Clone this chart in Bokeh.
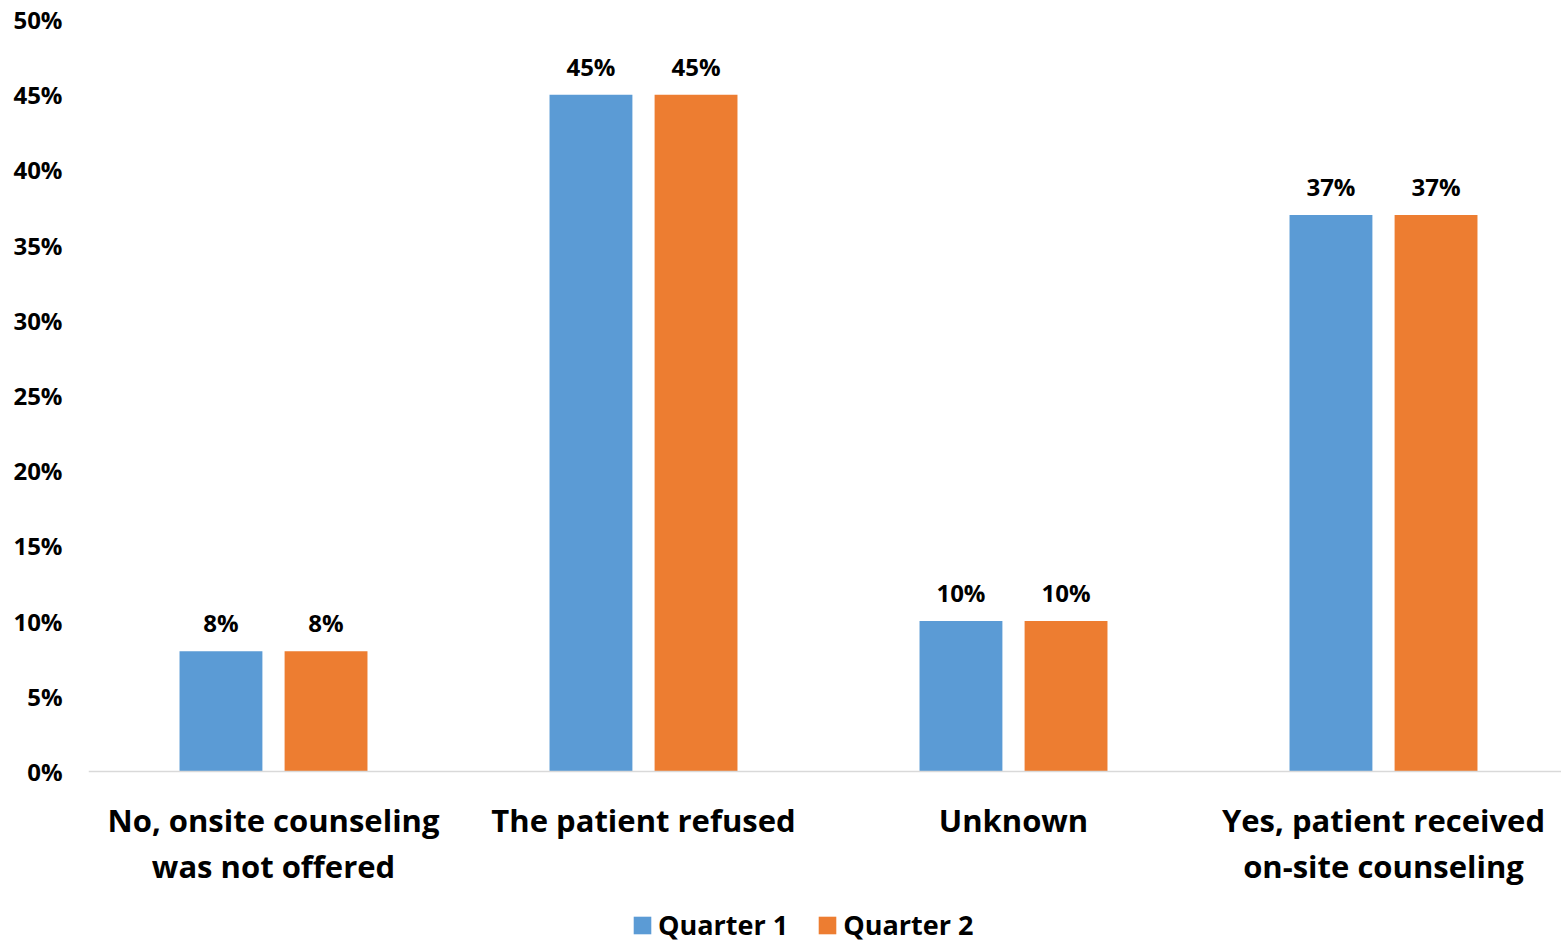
from bokeh.plotting import figure
from bokeh.models import (ColumnDataSource, Range1d, FixedTicker, Span,
                          NumeralTickFormatter, LabelSet, Legend, LegendItem)
from bokeh.core.properties import value
from bokeh.embed import file_html
from bokeh.resources import INLINE

categories = ["No, onsite counseling\nwas not offered", "The patient refused",
              "Unknown", "Yes, patient received\non-site counseling"]
quarter1 = [0.08, 0.45, 0.10, 0.37]
quarter2 = [0.08, 0.45, 0.10, 0.37]
series_names = ["Quarter 1", "Quarter 2"]
y_ticks = [0, 0.05, 0.10, 0.15, 0.20, 0.25, 0.30, 0.35, 0.40, 0.45, 0.50]

FONT = "Open Sans"
BLUE = "#5B9BD5"
ORANGE = "#ED7D31"

W, H = 1561, 944
LEFT, TOP = 88, 19
AXIS_PX = 771            # pixel row of the 0% baseline
SLOT_PX = 370            # width of one category slot
BAR_W = 0.224
OFFSET = 0.142

centers = [i + 0.5 for i in range(len(categories))]
first_line = [c.split("\n")[0] for c in categories]
second_line = [(c.split("\n") + [""])[1] for c in categories]

src = ColumnDataSource(dict(
    xc=centers,
    x1=[c - OFFSET for c in centers],
    x2=[c + OFFSET for c in centers],
    zero=[0] * len(categories),
    line1=first_line,
    line2=second_line,
    q1=quarter1,
    q2=quarter2,
    q1_txt=[f"{round(v * 100)}%" for v in quarter1],
    q2_txt=[f"{round(v * 100)}%" for v in quarter2],
))

# the plotting frame runs to the bottom edge so the category names and legend
# below the 0% line can live inside it
y_per_px = 0.5 / (AXIS_PX - TOP)
y_min = -(H - AXIS_PX) * y_per_px
x_max = (W - LEFT) / SLOT_PX

p = figure(width=W, height=H, x_range=Range1d(0, x_max), y_range=Range1d(y_min, 0.5),
           output_backend="svg", toolbar_location=None,
           min_border_left=LEFT, min_border_right=0, min_border_top=TOP, min_border_bottom=0)
p.outline_line_color = None
p.background_fill_color = "white"
p.border_fill_color = "white"
p.xgrid.visible = False
p.ygrid.visible = False
p.xaxis.visible = False

r1 = p.vbar(x="x1", top="q1", width=BAR_W, source=src, fill_color=BLUE, line_color=None)
r2 = p.vbar(x="x2", top="q2", width=BAR_W, source=src, fill_color=ORANGE, line_color=None)

# baseline at 0%
p.add_layout(Span(location=0, dimension="width", line_color="#D9D9D9", line_width=1.5))

# value labels above each bar
for xcol, col, txt in (("x1", "q1", "q1_txt"), ("x2", "q2", "q2_txt")):
    p.add_layout(LabelSet(x=xcol, y=col, text=txt, source=src,
                          text_align="center", text_baseline="alphabetic", y_offset=19,
                          text_font=value(FONT), text_font_style="bold",
                          text_font_size="24px", text_color="black"))

# category names under the baseline, each line centred on its slot
for col, off in (("line1", -60), ("line2", -106)):
    p.add_layout(LabelSet(x="xc", y="zero", text=col, source=src,
                          text_align="center", text_baseline="alphabetic", y_offset=off,
                          text_font=value(FONT), text_font_style="bold",
                          text_font_size="31px", text_color="black"))

# y axis: percentages, no line or ticks
p.yaxis.ticker = FixedTicker(ticks=y_ticks)
p.yaxis.formatter = NumeralTickFormatter(format="0%")
p.yaxis.axis_line_color = None
p.yaxis.major_tick_line_color = None
p.yaxis.minor_tick_line_color = None
p.yaxis.major_tick_out = 0
p.yaxis.major_tick_in = 0
p.yaxis.minor_tick_out = 0
p.yaxis.major_label_standoff = 26
p.yaxis.major_label_text_font = FONT
p.yaxis.major_label_text_font_style = "bold"
p.yaxis.major_label_text_font_size = "24px"
p.yaxis.major_label_text_color = "black"

legend = Legend(items=[LegendItem(label=series_names[0], renderers=[r1]),
                       LegendItem(label=series_names[1], renderers=[r2])],
                orientation="horizontal", location=(543, 1),
                label_text_font=FONT, label_text_font_style="bold",
                label_text_font_size="27px", label_text_color="black",
                glyph_width=22, glyph_height=22, spacing=28, label_standoff=5,
                border_line_color=None, background_fill_alpha=0,
                padding=0, margin=0)
p.add_layout(legend, "center")

open("out.html", "w").write(file_html(p, INLINE))
